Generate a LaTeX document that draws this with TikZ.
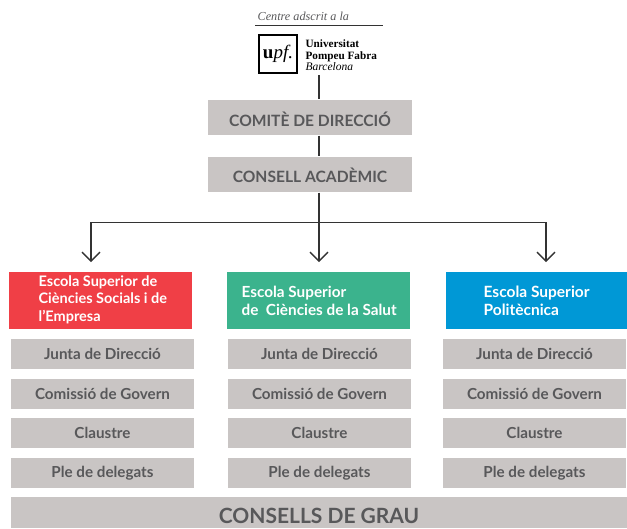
\documentclass[tikz,border=0pt]{standalone}
\usepackage{fontspec}
\setmainfont{Lato}
\newfontfamily\logofont{Liberation Serif}
\usetikzlibrary{arrows.meta}
\definecolor{boxgray}{HTML}{C9C5C4}
\definecolor{textgray}{HTML}{58585A}
\definecolor{linegray}{HTML}{333333}
\definecolor{schoolred}{HTML}{F03F46}
\definecolor{schoolgreen}{HTML}{3BB38D}
\definecolor{schoolblue}{HTML}{0098D6}
\def\colw{183pt}

\begin{document}
\begin{tikzpicture}[x=1pt,y=-1pt,line width=1.3pt,draw=linegray]
    \tikzstyle{box}=[fill=boxgray,text=textgray,font=\bfseries,inner sep=0pt]
    \tikzstyle{top box}=[box,minimum width=204pt,minimum height=35pt,font=\bfseries\fontsize{15.6}{18}\selectfont]
    \tikzstyle{organ}=[box,minimum width=\colw,minimum height=30pt,font=\bfseries\fontsize{15.2}{17}\selectfont]
    \tikzstyle{school}=[inner sep=0pt,minimum width=\colw,minimum height=57pt,text=white]
    \tikzstyle{school text}=[text=white,inner sep=0pt,align=left,anchor=west,font=\bfseries\fontsize{14.5}{17.6}\selectfont]
    \tikzstyle{logo text}=[inner sep=0pt,anchor=base west,text=black]
    \tikzstyle{arrow}=[-{Straight Barb[length=9pt,width=18pt,line width=1.3pt]}]
    \useasboundingbox (0,0) rectangle (627,528);

    % Draw the header with the logo
    \node[inner sep=0pt,anchor=base west,text=textgray,font=\logofont\itshape\fontsize{12.2}{14}\selectfont] (adscrit) at (257,20) {Centre adscrit a la};
    \coordinate (rule-l) at (255,25.5);
    \coordinate (rule-r) at (383,25.5);
    \draw (rule-l) -- (rule-r);
    \node[draw=black,line width=2pt,minimum size=38pt,inner sep=0pt,text=black,font=\logofont\fontsize{19}{20}\selectfont] (logo) at (278,54) {\textbf{u}\textit{pf.}};
    \node[logo text,font=\logofont\bfseries\fontsize{11.2}{12}\selectfont] (uni) at (305,47) {Universitat};
    \node[logo text,font=\logofont\bfseries\fontsize{11.2}{12}\selectfont] (pompeu) at (305,59) {Pompeu Fabra};
    \node[logo text,font=\logofont\itshape\fontsize{11.5}{12}\selectfont] (bcn) at (305,70) {Barcelona};
    \coordinate (logo-foot) at (319,75);

    % Draw the two boards
    \node[top box,text height=17pt,text depth=0pt] (comite) at (310,117.5) {COMITÈ DE DIRECCIÓ};
    \node[top box,text height=15pt,text depth=0pt] (consell) at (310,174.5) {CONSELL ACADÈMIC};

    % Draw the three schools
    \node[school,fill=schoolred] (S-1) at (100.5,300.5) {};
    \node[school,fill=schoolgreen] (S-2) at (318.5,300.5) {};
    \node[school,fill=schoolblue,minimum width=181pt] (S-3) at (536.5,300.5) {};
    \node[school text] (T-1) at (38,299.5) {Escola Superior de\\Ciències Socials i de\\l’Empresa};
    \node[school text,font=\bfseries\fontsize{15.3}{18.5}\selectfont] (T-2) at (241,301) {Escola Superior\\de~ Ciències de la Salut};
    \node[school text,font=\bfseries\fontsize{15.5}{18.5}\selectfont] (T-3) at (483,301) {Escola Superior\\Politècnica};

    % Draw the organs below each school
    \foreach \col / \x in {1/102.5,2/319.5,3/534.5}
    {
        \node[organ] (J-\col) at (\x,353.5) {Junta de Direcció};
        \node[organ] (G-\col) at (\x,393.5) {Comissió de Govern};
        \node[organ] (C-\col) at (\x,433) {Claustre};
        \node[organ] (P-\col) at (\x,473) {Ple de delegats};
    }
    \node[box,minimum width=616pt,minimum height=31pt,text height=21pt,text depth=0pt,font=\bfseries\fontsize{21}{23}\selectfont] (grau) at (319,512.5) {CONSELLS DE GRAU};

    % Connect the boards
    \coordinate (bus) at (319,222.5);
    \coordinate (bus-l) at (90,222.5);
    \coordinate (bus-r) at (547,222.5);
    \coordinate (tip-1) at (91,262);
    \coordinate (tip-2) at (319,262);
    \coordinate (tip-3) at (546,262);
    \draw (logo-foot) -- (comite.north -| logo-foot);
    \draw (comite.south -| logo-foot) -- (consell.north -| logo-foot);
    \draw (consell.south -| logo-foot) -- (bus);
    \draw[line width=1.7pt] (bus-l) -- (bus-r);

    % Connect the bus with every school
    \foreach \dest in {1,2,3}
        \draw[arrow] (bus -| tip-\dest) -- (tip-\dest);
\end{tikzpicture}
\end{document}
